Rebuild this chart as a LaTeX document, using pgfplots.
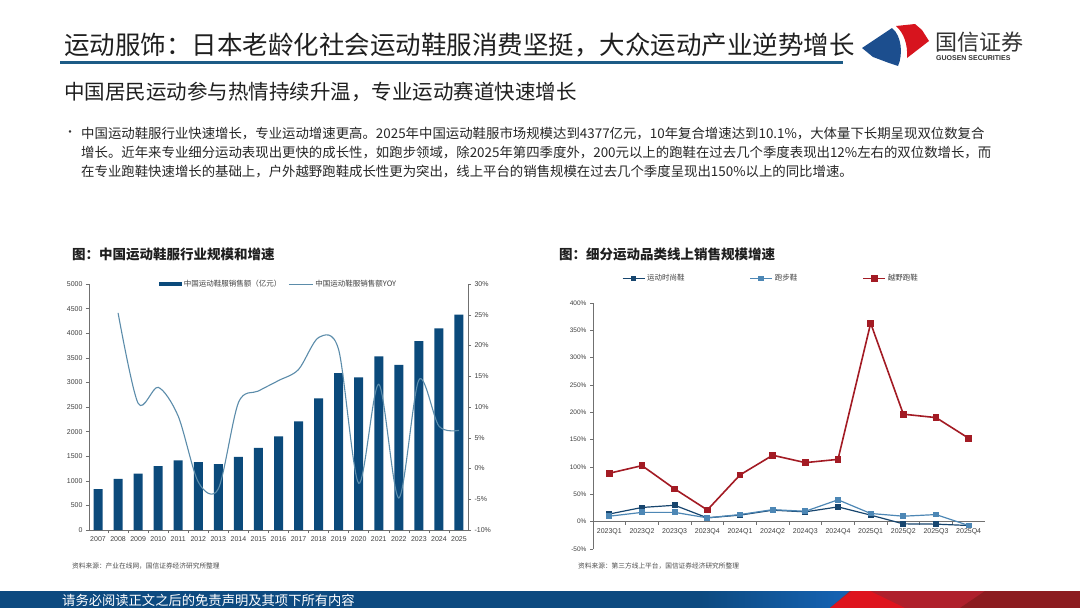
\documentclass[border=0pt]{standalone}
\usepackage{fontspec}
\usepackage{pgfplots}
\pgfplotsset{compat=1.18}
\setmainfont{Liberation Sans}
\newfontfamily\cjk{Noto Sans CJK SC}

\definecolor{barblue}{HTML}{0B4A7B}
\definecolor{yoyline}{HTML}{5B8CAA}
\definecolor{fashion}{HTML}{17456E}
\definecolor{runblue}{HTML}{4D87B5}
\definecolor{trailred}{HTML}{A31B24}
\definecolor{axisgray}{HTML}{707070}
\definecolor{ticktxt}{HTML}{404040}
\definecolor{titleline}{HTML}{1D5B86}
\definecolor{footblue}{HTML}{0D4A80}
\definecolor{footlight}{HTML}{1665B8}
\definecolor{footred}{HTML}{AF202C}
\definecolor{footbright}{HTML}{DE141E}
\definecolor{footdark}{HTML}{8C1C20}
\definecolor{logoblue}{HTML}{1C4E8E}
\definecolor{logored}{HTML}{D7141E}

\pgfplotsset{
  slide axis/.style={
    scale only axis,
    anchor=south west,
    axis line style={axisgray, line width=0.6pt},
    tick style={axisgray, line width=0.5pt},
    tick align=outside,
    major tick length=3pt,
    minor tick length=3pt,
    /pgf/number format/assume math mode=true,
    ticklabel style={font=\fontsize{7}{8}\selectfont, text=ticktxt},
    legend style={draw=none, fill=none, text=ticktxt,
      font=\cjk\fontsize{7.5}{8}\selectfont},
  },
  barlegend/.style={legend image code/.code={\fill[barblue] (0pt,-2pt) rectangle (23pt,2pt);}},
  linelegend/.style={legend image code/.code={\draw[yoyline, line width=1pt] (0pt,0pt) -- (24pt,0pt);}},
  marklegend/.style={legend image code/.code={\draw[mark repeat=2, mark phase=2, ##1]
    plot coordinates {(0pt,0pt) (11pt,0pt) (22pt,0pt)};}},
}

\begin{document}
\begin{tikzpicture}[x=1pt, y=1pt]
\fill[white] (0,0) rectangle (1080,-608);
\path[use as bounding box] (0,0) rectangle (1080,-608);

% header
\node[anchor=west, inner sep=0, text=black!88] at (64,-45)
  {\cjk\fontsize{25.5}{28}\selectfont 运动服饰：日本老龄化社会运动鞋服消费坚挺，大众运动产业逆势增长};
\draw[titleline, line width=3pt] (60,-62) -- (843,-62);

% logo
\begin{scope}[xshift=3pt]
\fill[logoblue] (859,-48) -- (889,-28) .. controls (899,-36) and (900,-55) .. (895,-66)
  -- (886,-63) -- (870,-57) -- cycle;
\fill[logored] (893,-26) -- (912,-24) -- (919,-30) -- (926,-41) -- (904,-58)
  .. controls (905,-45) and (901,-33) .. cycle;
\end{scope}
\node[anchor=west, inner sep=0, text=black!80] at (935,-42)
  {\cjk\fontsize{22}{24}\selectfont 国信证券};
\node[anchor=west, inner sep=0, text=black!80] at (936,-58)
  {\fontsize{7}{8}\selectfont\bfseries GUOSEN SECURITIES};

% subtitle and text
\node[anchor=west, inner sep=0, text=black!88] at (64,-92)
  {\cjk\fontsize{20.5}{22}\selectfont 中国居民运动参与热情持续升温，专业运动赛道快速增长};
\node[anchor=west, inner sep=0, text=black!80] at (64,-134) {\cjk\fontsize{12}{12}\selectfont •};
\begin{scope}[every node/.style={anchor=west, inner sep=0, text=black!85,
    font=\cjk\fontsize{13.4}{15}\selectfont}]
\node at (81,-134) {中国运动鞋服行业快速增长，专业运动增速更高。2025年中国运动鞋服市场规模达到4377亿元，10年复合增速达到10.1\%，大体量下长期呈现双位数复合};
\node at (81,-153) {增长。近年来专业细分运动表现出更快的成长性，如跑步领域，除2025年第四季度外，200元以上的跑鞋在过去几个季度表现出12\%左右的双位数增长，而};
\node at (81,-172) {在专业跑鞋快速增长的基础上，户外越野跑鞋成长性更为突出，线上平台的销售规模在过去几个季度呈现出150\%以上的同比增速。};
\end{scope}

% chart titles
\node[anchor=west, inner sep=0, text=black!88] at (72,-254)
  {\cjk\bfseries\fontsize{13.5}{15}\selectfont 图：中国运动鞋服行业规模和增速};
\node[anchor=west, inner sep=0, text=black!88] at (559,-254)
  {\cjk\bfseries\fontsize{13.5}{15}\selectfont 图：细分运动品类线上销售规模增速};

% left chart: sales (bars)
\begin{axis}[slide axis,
  at={(89pt,-530pt)}, width=379pt, height=246pt,
  xmin=-0.45, xmax=18.45, ymin=0, ymax=5000,
  axis y line*=left, axis x line*=bottom,
  ytick={0,500,...,5000},
  yticklabels={0,500,1000,1500,2000,2500,3000,3500,4000,4500,5000},
  xtick={0,...,18},
  xticklabels={2007,2008,2009,2010,2011,2012,2013,2014,2015,2016,2017,2018,2019,2020,2021,2022,2023,2024,2025},
  major x tick style={draw=none},
  minor xtick={0.5,1.5,...,17.5},
  legend columns=2,
  legend style={at={(0.5,1.0)}, anchor=center,
    /tikz/every even column/.append style={column sep=5pt}},
]
\addplot[ybar, bar width=9pt, fill=barblue, draw=none, barlegend]
  coordinates {
  (0,830) (1,1040) (2,1147) (3,1300) (4,1416) (5,1382) (6,1340) (7,1484)
  (8,1667) (9,1904) (10,2209) (11,2677) (12,3191) (13,3104) (14,3530)
  (15,3354) (16,3841) (17,4100) (18,4377)
};
\addlegendentry{中国运动鞋服销售额（亿元）}
\addlegendimage{linelegend}
\addlegendentry{中国运动鞋服销售额YOY}
\end{axis}

% left chart: growth (line, right axis)
\begin{axis}[slide axis,
  at={(89pt,-530pt)}, width=379pt, height=246pt,
  xmin=-0.45, xmax=18.45, ymin=-10, ymax=30,
  axis y line*=right, axis x line=none,
  ytick={-10,-5,...,30},
  yticklabels={-10\%,-5\%,0\%,5\%,10\%,15\%,20\%,25\%,30\%},
]
\addplot[yoyline, line width=1.1pt, smooth, mark=none] coordinates {
  (1,25.3) (2,10.6) (3,13.2) (4,8.5) (5,-2.2) (6,-3.3) (7,10.7) (8,12.6)
  (9,14.3) (10,16.1) (11,21.3) (12,19.3) (13,-2.4) (14,13.7) (15,-4.8)
  (16,14.4) (17,6.9) (18,6.2)
};
\end{axis}

% right chart
\begin{axis}[slide axis,
  at={(593pt,-549pt)}, width=392pt, height=246pt,
  xmin=-0.5, xmax=11.5, ymin=-50, ymax=400,
  axis y line*=left, axis x line*=middle,
  ytick={-50,0,...,400},
  yticklabels={-50\%,0\%,50\%,100\%,150\%,200\%,250\%,300\%,350\%,400\%},
  yticklabel style={font=\fontsize{6.5}{7}\selectfont},
  xtick={0,...,11},
  xticklabels={2023Q1,2023Q2,2023Q3,2023Q4,2024Q1,2024Q2,2024Q3,2024Q4,2025Q1,2025Q2,2025Q3,2025Q4},
  xticklabel style={font=\fontsize{7}{8}\selectfont},
  major x tick style={draw=none},
  minor xtick={0.5,1.5,...,10.5},
  legend columns=3,
  legend style={at={(0.454,1.10)}, anchor=center,
    /tikz/every even column/.append style={column sep=63pt}},
  marklegend,
]
\addplot[fashion, line width=1.2pt, mark=square*, mark size=2.3pt] coordinates {
  (0,14) (1,26) (2,30) (3,7) (4,12) (5,21) (6,18) (7,27) (8,12) (9,-4) (10,-4.5) (11,-7)
};
\addlegendentry{运动时尚鞋}
\addplot[runblue, line width=1.2pt, mark=square*, mark size=2.3pt] coordinates {
  (0,10) (1,17) (2,17) (3,7) (4,13) (5,22) (6,19) (7,40) (8,15) (9,10) (10,13) (11,-7)
};
\addlegendentry{跑步鞋}
\addplot[trailred, line width=1.6pt, mark=square*, mark size=2.6pt] coordinates {
  (0,88.6) (1,102.5) (2,59.9) (3,21.4) (4,85.5) (5,121.5) (6,108) (7,114)
  (8,363) (9,196.6) (10,190.4) (11,152.6)
};
\addlegendentry{越野跑鞋}
\end{axis}

% sources
\node[anchor=west, inner sep=0, text=black!70] at (72,-566)
  {\cjk\fontsize{6.7}{7}\selectfont 资料来源：产业在线网，国信证券经济研究所整理};
\node[anchor=west, inner sep=0, text=black!70] at (578,-566)
  {\cjk\fontsize{6.7}{7}\selectfont 资料来源：第三方线上平台，国信证券经济研究所整理};

% footer
\fill[footblue] (0,-591) rectangle (700,-608);
\shade[left color=footblue, right color=footlight] (700,-591) rectangle (860,-608);
\fill[footred] (850,-591) -- (1080,-591) -- (1080,-608) -- (830,-608) -- cycle;
\fill[footbright] (852,-591) -- (870,-591) -- (905,-608) -- (830,-608) -- cycle;
\fill[footdark] (985,-591) -- (1080,-591) -- (1080,-608) -- (960,-608) -- cycle;
\node[anchor=west, inner sep=0, text=white] at (62,-600)
  {\cjk\fontsize{13.3}{14}\selectfont 请务必阅读正文之后的免责声明及其项下所有内容};
\end{tikzpicture}
\end{document}
